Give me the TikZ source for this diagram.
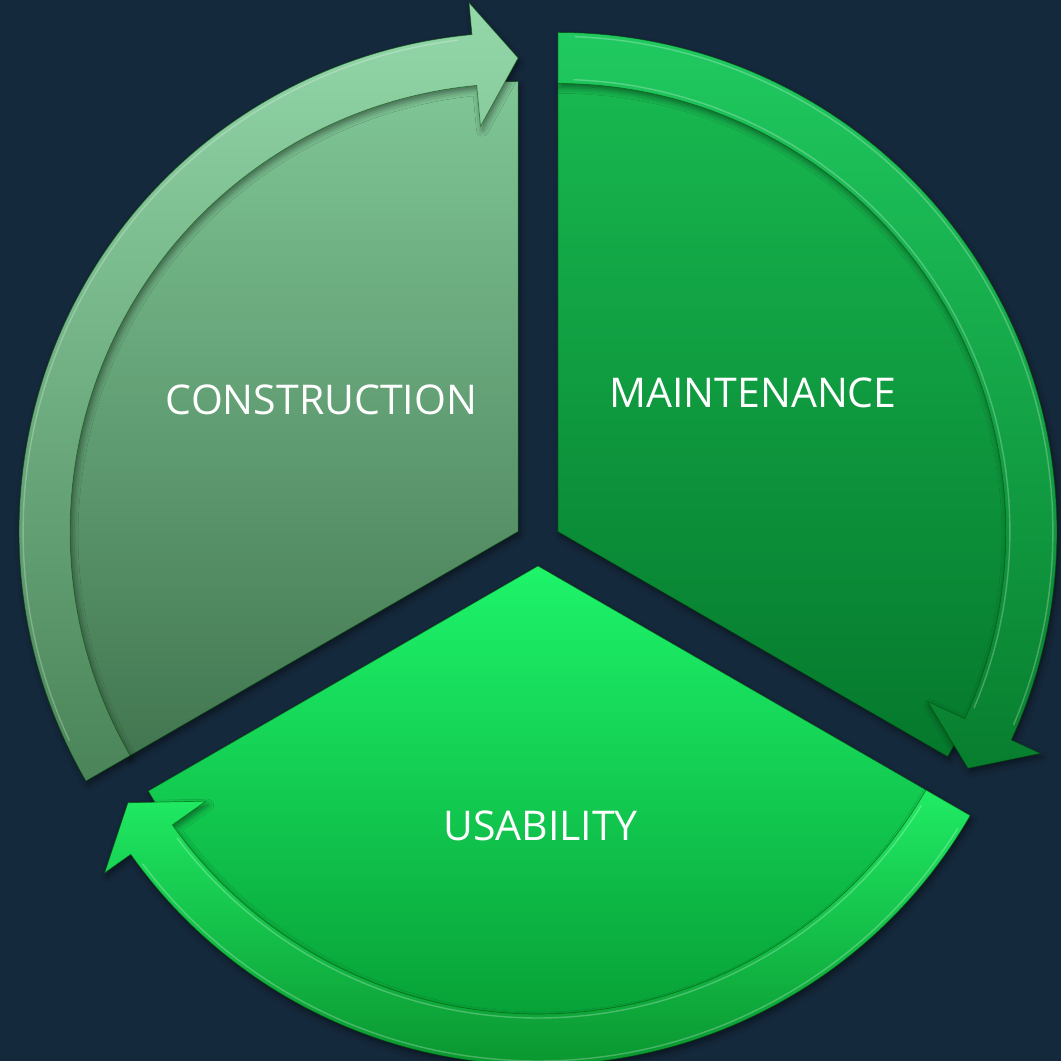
\documentclass[tikz,border=0pt]{standalone}
\usepackage{fontspec}
\setmainfont{Open Sans}
\usetikzlibrary{shadows.blur}
% ring geometry (units are points, origin bottom left)
\newcommand\cyRin{448}
\newcommand\cyRout{499}
\newcommand\cyRlo{407}
\newcommand\cyRhi{531}
\newcommand\cyRmid{473.5}
\newcommand\cyHd{5.3}
% curved block arrow running clockwise from angle #1 to its tip at angle #2
\newcommand\cyband[2]{(#1:\cyRout) arc[start angle=#1, end angle=#2+\cyHd, radius=\cyRout]
  -- (#2+\cyHd:\cyRhi) -- (#2:\cyRmid) -- (#2+\cyHd:\cyRlo) -- (#2+\cyHd:\cyRin)
  arc[start angle=#2+\cyHd, end angle=#1, radius=\cyRin] -- cycle}
% pie sector from angle #1 to angle #2 (counter-clockwise)
\newcommand\cysector[2]{(0,0) -- (#1:\cyRin+2) arc[start angle=#1, end angle=#2, radius=\cyRin+2] -- cycle}
\begin{document}
\begin{tikzpicture}[x=1pt,y=1pt,
  edge/.style={draw=black!70!green, draw opacity=0.55, line width=0.7pt},
  soft/.style={blur shadow={shadow xshift=2pt, shadow yshift=-4pt, shadow blur radius=6pt, shadow opacity=45}},
  gloss/.style={white, opacity=0.25, line width=1.4pt},
  label/.style={text=white, font=\fontsize{41}{48}\selectfont, inner sep=0pt}]
\definecolor{bg}{RGB}{21,41,60}
\useasboundingbox (0,0) rectangle (1061,1061);
\fill[bg] (0,0) rectangle (1061,1061);

% CONSTRUCTION segment
\begin{scope}[shift={(518.1,529.5)}]
  \shade[top color={rgb,255:red,128;green,198;blue,150}, bottom color={rgb,255:red,66;green,118;blue,80}, edge, soft] \cysector{90}{210};
  \shade[top color={rgb,255:red,148;green,216;blue,170}, bottom color={rgb,255:red,74;green,132;blue,88}, edge, soft] \cyband{210}{90};
  \draw[gloss] (205:\cyRout-4) arc[start angle=205, end angle=97, radius=\cyRout-4];
\end{scope}
\node[label] (construction) at (321.5,661) {CONSTRUCTION};

% MAINTENANCE segment
\begin{scope}[shift={(557.9,529.5)}]
  \shade[top color={rgb,255:red,24;green,184;blue,80}, bottom color={rgb,255:red,5;green,120;blue,44}, edge, soft] \cysector{-30}{90};
  \shade[top color={rgb,255:red,32;green,202;blue,96}, bottom color={rgb,255:red,8;green,126;blue,46}, edge, soft] \cyband{90}{-30};
  \draw[gloss] (88:\cyRout-4) arc[start angle=88, end angle=-23, radius=\cyRout-4];
  \draw[gloss] (88:\cyRin+4) arc[start angle=88, end angle=-23, radius=\cyRin+4];
\end{scope}
\node[label] (maintenance) at (753,668.5) {MAINTENANCE};

% USABILITY segment
\begin{scope}[shift={(538,495)}]
  \shade[top color={rgb,255:red,30;green,244;blue,106}, bottom color={rgb,255:red,4;green,150;blue,48}, edge, soft] \cysector{210}{330};
  \shade[top color={rgb,255:red,32;green,236;blue,100}, bottom color={rgb,255:red,10;green,150;blue,48}, edge, soft] \cyband{-30}{-150};
  \draw[gloss] (-32:\cyRout-4) arc[start angle=-32, end angle=-143, radius=\cyRout-4];
  \draw[gloss] (-32:\cyRin+4) arc[start angle=-32, end angle=-143, radius=\cyRin+4];
\end{scope}
\node[label] (usability) at (540.5,235) {USABILITY};
\end{tikzpicture}
\end{document}
